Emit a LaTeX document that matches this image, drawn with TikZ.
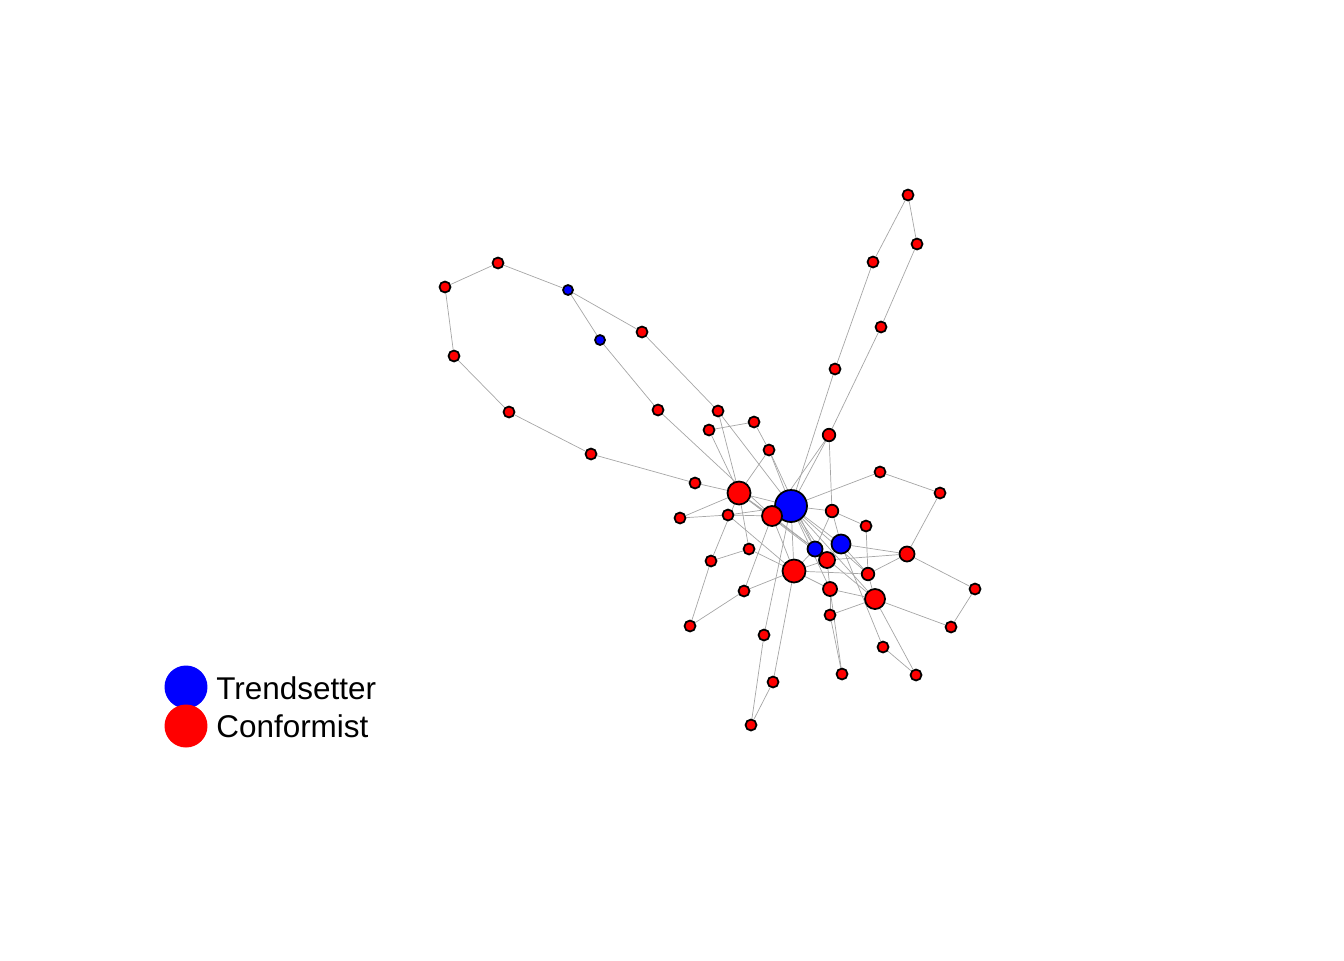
\documentclass[tikz,border=0pt]{standalone}
\usepackage{fontspec}
\setmainfont{Liberation Sans}
\usetikzlibrary{backgrounds}

\begin{document}
\begin{tikzpicture}[x=0.02cm, y=-0.02cm,
    node/.style={circle, draw=black, line width=1pt, inner sep=0pt, minimum size=0.22cm},
    tset/.style={node, fill=blue},
    conf/.style={node, fill=red},
    edge/.style={draw=black!35, line width=0.4pt},
    legend/.style={font=\fontsize{17.9}{20}\selectfont, anchor=base west, inner sep=0pt}]
  \useasboundingbox (0,0) rectangle (1344,960);
  % trendsetters
  \node[tset, minimum size=0.64cm] (t0) at (791,506) {};
  \node[tset, minimum size=0.38cm] (t1) at (841,544) {};
  \node[tset, minimum size=0.3cm] (t2) at (815,549) {};
  \node[tset, minimum size=0.2cm] (t3) at (568,290) {};
  \node[tset, minimum size=0.2cm] (t4) at (600,340) {};
  % conformists, larger ones
  \node[conf, minimum size=0.46cm] (c1) at (739,493) {};
  \node[conf, minimum size=0.4cm] (c2) at (772,516) {};
  \node[conf, minimum size=0.46cm] (c3) at (794,571) {};
  \node[conf, minimum size=0.4cm] (c4) at (875,599) {};
  \node[conf, minimum size=0.32cm] (c5) at (827,560) {};
  \node[conf, minimum size=0.3cm] (c6) at (907,554) {};
  \node[conf, minimum size=0.28cm] (c7) at (830,589) {};
  \node[conf, minimum size=0.25cm] (c8) at (832,511) {};
  \node[conf, minimum size=0.25cm] (c9) at (829,435) {};
  \node[conf, minimum size=0.25cm] (c10) at (868,574) {};
  % conformists, small ones
  \foreach \n/\x/\y in {c11/908/195, c12/917/244, c13/873/262, c14/881/327,
      c15/835/369, c16/498/263, c17/445/287, c18/454/356, c19/509/412,
      c20/591/454, c21/642/332, c22/658/410, c23/718/411, c24/709/430,
      c25/754/422, c26/769/450, c27/695/483, c28/680/518, c29/728/515,
      c30/749/549, c31/711/561, c32/744/591, c33/690/626, c34/764/635,
      c35/773/682, c36/751/725, c37/830/615, c38/842/674, c39/883/647,
      c40/916/675, c41/951/627, c42/975/589, c43/940/493, c44/880/472,
      c45/866/526}
    \node[conf] (\n) at (\x,\y) {};
  % edges
  \begin{scope}[on background layer]
    \foreach \a/\b in {t3/c16, c16/c17, c17/c18, c18/c19, c19/c20, c20/c27,
        c27/c1, t3/t4, t3/c21, c21/c23, t4/c22, c22/c2, c23/c1, c23/t0,
        c24/c25, c24/c1, c25/c26, c26/c1, c26/t0, c26/t2, c11/c13, c11/c12,
        c12/c14, c14/c9, c13/c15, c15/t0, c9/t0, c9/c2, c9/c8, c44/t0,
        c44/c43, c43/c6, c8/t0, c8/c45, c8/t1, c8/t2, c45/c10, c6/c42,
        c6/t1, c6/c5, c6/c10, c42/c41, c41/c4, c4/c40, c4/c37, c4/c7,
        c4/c10, c4/t0, c4/t2, c39/c40, c39/t1, c38/c37, c38/c7, c33/c31,
        c33/c32, c31/c1, c31/c30, c30/c3, c30/c1, c32/c3, c32/c2, c34/c36,
        c34/t0, c35/c36, c35/c3, c37/c7, c3/t0, c3/t2, c3/c5, c3/c2,
        c3/c29, c3/c10, c3/c7, c29/c28, c29/c2, c29/t0, c28/c1, c1/t0,
        c1/c2, c1/t2, c1/c5, c2/t0, c2/t2, t0/t1, t0/t2, t0/c5, t0/c10,
        t0/c7, t2/c5, t1/c5, c5/c7, t1/c10}
      \draw[edge] (\a) -- (\b);
  \end{scope}
  % legend
  \node[circle, fill=blue, inner sep=0pt, minimum size=0.86cm] (lgt) at (186,687) {};
  \node[circle, fill=red, inner sep=0pt, minimum size=0.86cm] (lgc) at (186,726) {};
  \node[legend] (lbt) at (216,699) {Trendsetter};
  \node[legend] (lbc) at (216,737) {Conformist};
\end{tikzpicture}
\end{document}
